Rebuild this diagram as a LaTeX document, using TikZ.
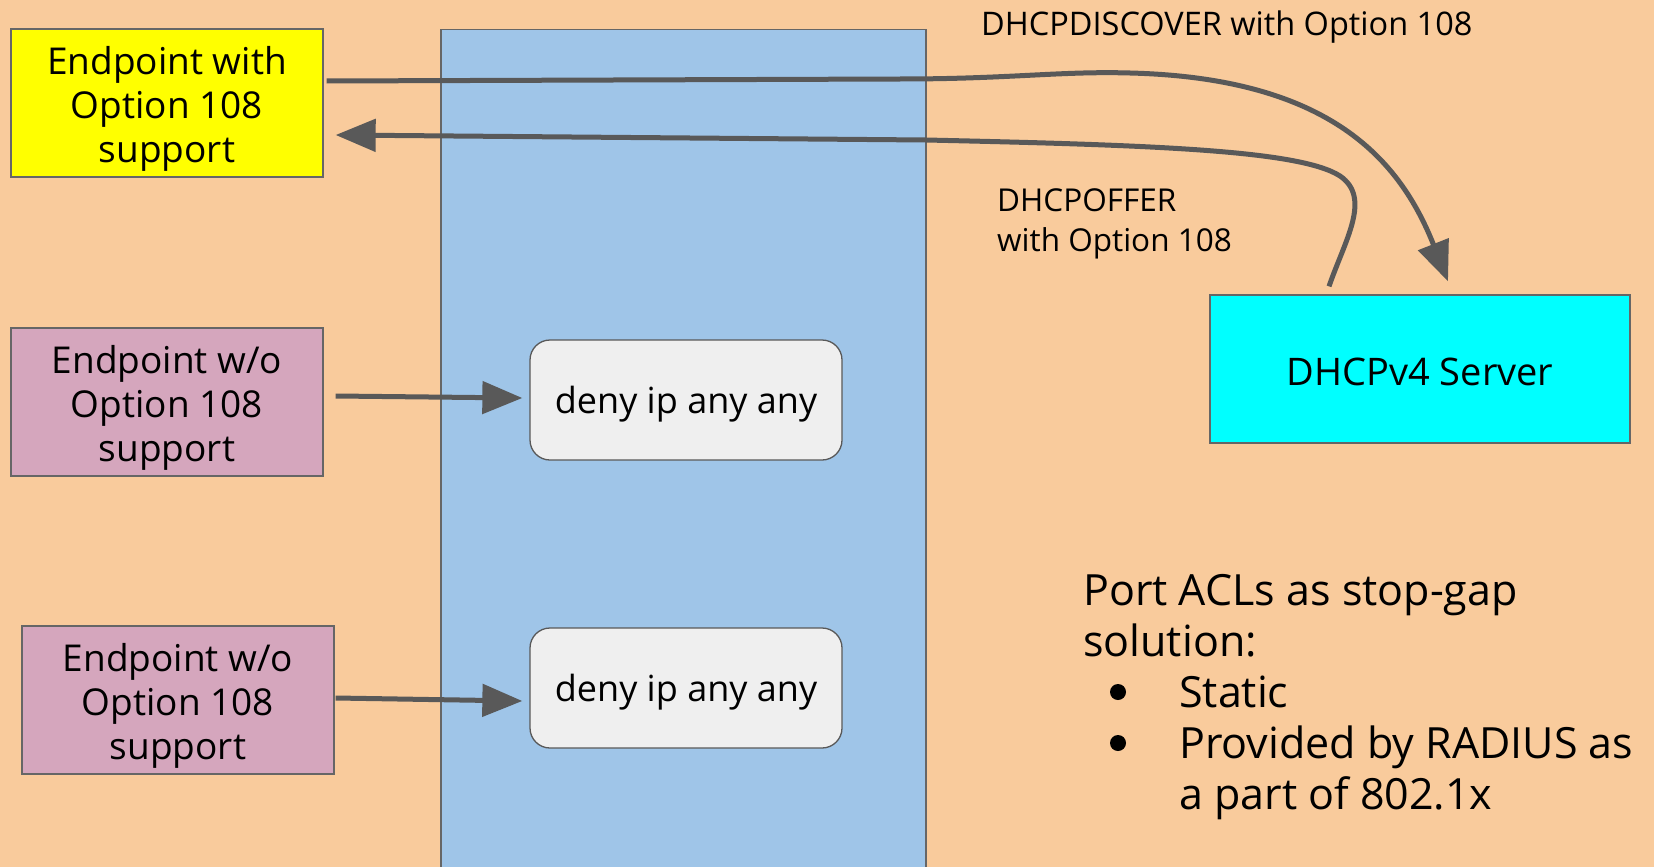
\documentclass[tikz,border=0pt]{standalone}
\usepackage{fontspec}
\setmainfont{Open Sans}
\usetikzlibrary{arrows.meta}
\definecolor{peach}{HTML}{F9CB9C}
\definecolor{panelblue}{HTML}{9FC5E8}
\definecolor{pinkbox}{HTML}{D5A6BD}
\definecolor{brightyellow}{HTML}{FFFF00}
\definecolor{brightcyan}{HTML}{00FFFF}
\definecolor{denyfill}{HTML}{EFEFEF}
\definecolor{edgegray}{HTML}{666666}
\definecolor{arrowgray}{HTML}{595959}
% box text, set a little below the centre of its box
\newcommand\boxtext[2][6.5pt]{\raisebox{-#1}[\height][\depth]{\begin{tabular}{@{}c@{}}#2\end{tabular}}}
\begin{document}
\begin{tikzpicture}[x=1pt,y=-1pt,
  endpoint/.style={draw=edgegray, line width=1.3pt, minimum width=312pt, minimum height=148pt,
    inner sep=0pt, align=center, font=\fontsize{37}{44}\selectfont},
  acl/.style={draw=arrowgray, fill=denyfill, line width=1.3pt, rounded corners=20pt,
    minimum width=312pt, minimum height=120pt, inner sep=0pt, font=\fontsize{36}{43}\selectfont},
  flow/.style={draw=arrowgray, line width=5pt, -{Triangle[length=40pt,width=32pt]}},
  lbl/.style={inner sep=0pt, align=left, font=\fontsize{31.5}{40}\selectfont},
  note/.style={inner sep=0pt, align=left, font=\fontsize{43}{51}\selectfont},
  dot/.style={fill=black}]
  % page and switch panel
  \fill[peach] (0,0) rectangle (1654,867);
  \useasboundingbox (0,0) rectangle (1654,867);
  \filldraw[fill=panelblue, draw=edgegray, line width=1.3pt] (441,29.5) rectangle (926,875);

  % endpoints, port ACLs and server
  \node[endpoint, fill=brightyellow] (ep1) at (167,103) {\boxtext{Endpoint with\\Option 108\\support}};
  \node[endpoint, fill=pinkbox] (ep2) at (167,402) {\boxtext{Endpoint w/o\\Option 108\\support}};
  \node[endpoint, fill=pinkbox] (ep3) at (178,700) {\boxtext{Endpoint w/o\\Option 108\\support}};
  \node[acl] (deny1) at (686,400) {\boxtext[4.5pt]{deny ip any any}};
  \node[acl] (deny2) at (686,688) {\boxtext[4.5pt]{deny ip any any}};
  \node[endpoint, fill=brightcyan, minimum width=420pt, font=\fontsize{38}{44}\selectfont] (server)
    at (1420,369) {\boxtext[7.5pt]{DHCPv4 Server}};

  % message labels
  \node[lbl, anchor=west, font=\fontsize{32.5}{40}\selectfont] (disc) at (981,27) {DHCPDISCOVER with Option 108};
  \node[lbl, anchor=north west] (offer) at (997,188) {DHCPOFFER\\with Option 108};

  % DHCP exchange
  \draw[flow] ([xshift=3pt,yshift=22pt]ep1.east) -- (900,79)
    .. controls (1010,79) and (1060,71) .. (1130,73)
    .. controls (1330,78) and (1400,160) .. ([xshift=28pt,yshift=13pt]server.north);
  \draw[flow] ([xshift=-91pt,yshift=8pt]server.north)
    .. controls (1345,240) and (1372,198) .. (1340,176)
    .. controls (1300,150) and (1150,145) .. (926,140)
    -- ([xshift=12pt,yshift=-32pt]ep1.east);

  % blocked endpoints
  \draw[flow] ([xshift=12pt,yshift=6pt]ep2.east) -- ([xshift=-7pt,yshift=2pt]deny1.west);
  \draw[flow] ([xshift=1pt,yshift=2pt]ep3.east) -- ([xshift=-7pt,yshift=-13pt]deny2.west);

  % notes with their list bullets
  \node[note, anchor=north west] (notes) at (1083,574)
    {Port ACLs as stop-gap\\solution:\\
     \hspace*{96pt}Static\\
     \hspace*{96pt}Provided by RADIUS as\\
     \hspace*{96pt}a part of 802.1x};
  \fill[dot] (1118,692) circle (8);
  \fill[dot] (1118,743) circle (8);
\end{tikzpicture}
\end{document}
